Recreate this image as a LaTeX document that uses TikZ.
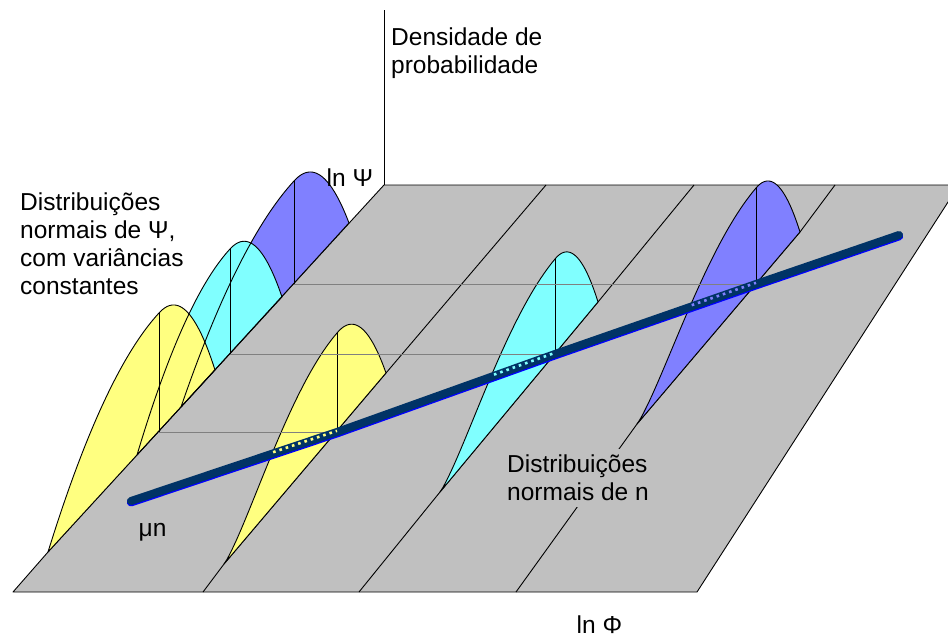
\documentclass[tikz,border=0pt]{standalone}
\usepackage{fontspec}
\setmainfont{Liberation Sans}
\usetikzlibrary{calc}
\definecolor{planeC}{RGB}{192,192,192}
\definecolor{yellowC}{RGB}{255,255,128}
\definecolor{cyanC}{RGB}{128,255,255}
\definecolor{violetC}{RGB}{128,128,255}
\definecolor{trendC}{RGB}{0,51,102}
\definecolor{trendE}{RGB}{0,0,255}
\definecolor{guideC}{RGB}{128,128,128}
% bell curve standing on a base line: centre, height, lower end, upper end, exponent of the long tail
\tikzset{
  bell/.style n args={8}{insert path={
    plot[domain=1:0,samples=40,variable=\t]
      ({#1+(#4-#1)*\t},{#2+(#5-#2)*\t-#3*max(1-\t*\t,0.0001)^#8})
    -- plot[domain=0:1,samples=30,variable=\t]
      ({#1+(#6-#1)*\t},{#2+(#7-#2)*\t-#3*(1-\t*\t)})
    -- cycle}}
}

\begin{document}
\begin{tikzpicture}[x=1pt,y=-1pt,font=\fontsize{24.5}{28}\selectfont,line join=round,
    rim/.style={black,line width=0.9pt},
    guide/.style={guideC,line width=1pt},
    lbl/.style={inner sep=0pt,align=left},
    trenddots/.style={line width=2.6pt,dash pattern=on 2.6pt off 4pt,
      transform canvas={yshift=1.2pt}}]
  \useasboundingbox (0,0) rectangle (948,637);
  % ground plane
  \fill[planeC] (13,592) -- (48,552) -- (384,185) -- (959,185) -- (697,592) -- cycle;
  \draw[rim] (203,592) -- (224,564) -- (386,373) -- (546,185);
  \draw[rim] (359,592) -- (440,492) -- (598,302) -- (694,185);
  \draw[rim] (516,592) -- (637,424) -- (800,232) -- (835,185);
  \draw[rim] (13,592) -- (48,552) -- (384,185) -- (959,185) -- (697,592) -- cycle;
  \coordinate (orig) at (384,185);
  \coordinate (densTop) at (384,10);
  \draw[rim] (orig) -- (densTop);
  % distributions of Psi on the back edge
  \foreach \col/\cx/\cy/\h/\tx/\ty/\ux/\uy in
      {violetC/294/284/103/181/407/349/223, cyanC/230/354/105/137/455/282/297,
       yellowC/159/432/119/48/552/215/370}
    \fill[\col] [bell={\cx}{\cy}{\h}{\tx}{\ty}{\ux}{\uy}{1}];
  \foreach \cx/\cy/\h/\tx/\ty/\ux/\uy in
      {294/284/103/181/407/349/223, 230/354/105/137/455/282/297,
       159/432/119/48/552/215/370}{
    \draw[rim] [bell={\cx}{\cy}{\h}{\tx}{\ty}{\ux}{\uy}{1}];
    \draw[rim] ({\cx},{\cy-\h}) -- ({\cx},{\cy});
  }
  % distributions of n on the plane
  \foreach \col/\cx/\cy/\h/\tx/\ty/\ux/\uy in
      {yellowC/337/432/99/224/564/386/373, cyanC/555/354/95/440/492/598/302,
       violetC/756/284/96/637/424/800/232}{
    \filldraw[rim,fill=\col] [bell={\cx}{\cy}{\h}{\tx}{\ty}{\ux}{\uy}{1.5}];
    \draw[rim] ({\cx},{\cy-\h}) -- ({\cx},{\cy});
  }
  \coordinate (psiLo) at (159,432);
  \coordinate (psiMid) at (230,354);
  \coordinate (psiHi) at (294,284);
  \coordinate (nLo) at (337,432);
  \coordinate (nMid) at (555,354);
  \coordinate (nHi) at (756,284);
  \draw[guide] (psiLo) -- (nLo);
  \draw[guide] (psiMid) -- (nMid);
  \draw[guide] (psiHi) -- (nHi);
  % mean line
  \coordinate (muA) at (131,501);
  \coordinate (muB) at (899,235);
  \draw[trendE,line width=8.4pt,line cap=round,transform canvas={yshift=-1.2pt}]
    (muA) -- (nLo) -- (nMid) -- (nHi) -- (muB);
  \draw[trendC,line width=8pt,line cap=round] (muA) -- (nLo) -- (nMid) -- (nHi) -- (muB);
  \draw[trenddots,yellowC] ($(muA)!0.69!(nLo)$) -- (nLo);
  \draw[trenddots,cyanC] ($(nLo)!0.72!(nMid)$) -- (nMid);
  \draw[trenddots,violetC] ($(nMid)!0.68!(nHi)$) -- (nHi);
  % labels
  \node[lbl,anchor=north west] (psiNote) at (20,193)
    {Distribuições\\normais de Ψ,\\com variâncias\\constantes};
  \node[lbl,anchor=north west] (densLbl) at (391,28) {Densidade de\\probabilidade};
  \node[lbl,anchor=base west] (psiLbl) at (326.5,186) {ln Ψ};
  \node[lbl,anchor=base west] (muLbl) at (138.5,536) {μn};
  \node[lbl,anchor=base west] (phiLbl) at (576.5,633) {ln Φ};
  \node[lbl,anchor=north west,fill=planeC,inner xsep=4pt,inner ysep=6pt] (nNote)
    at (503,449) {Distribuições\\normais de n};
\end{tikzpicture}
\end{document}
